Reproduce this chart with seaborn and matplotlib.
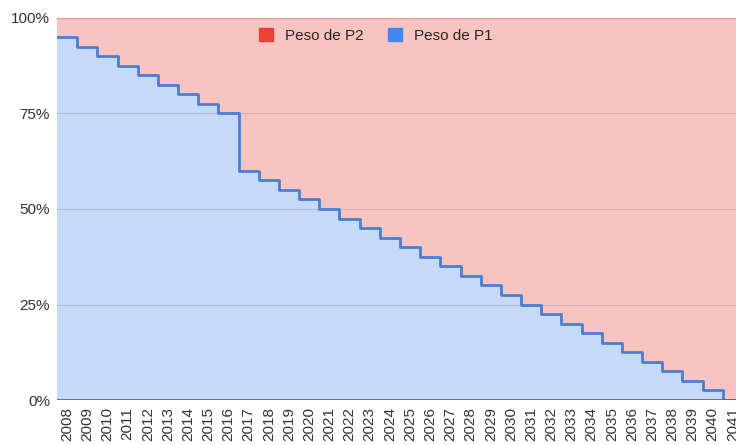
import matplotlib
matplotlib.use('Agg')
import matplotlib.pyplot as plt
import seaborn as sns
import numpy as np
import pandas as pd
from matplotlib.patches import Patch

years = [str(y) for y in range(2008, 2042)]
peso_p1 = [95, 92.5, 90, 87.5, 85, 82.5, 80, 77.5, 75,
           60, 57.5, 55, 52.5, 50, 47.5, 45, 42.5, 40, 37.5, 35,
           32.5, 30, 27.5, 25, 22.5, 20, 17.5, 15, 12.5, 10, 7.5, 5, 2.5, 0]
peso_p2 = [100 - v for v in peso_p1]

sns.set_theme(style="white")
plt.rcParams['font.family'] = ['Liberation Sans', 'DejaVu Sans']

df = pd.DataFrame({'year': years, 'p1': peso_p1, 'p2': peso_p2})
df['pos'] = np.arange(len(df))

# step edges: each year fills one band
edges = np.append(df['pos'].values, len(df))
p1_edge = np.append(df['p1'].values, df['p1'].values[-1])
total_edge = p1_edge + np.append(df['p2'].values, df['p2'].values[-1])

fig = plt.figure(figsize=(7.36, 4.45), dpi=100)
ax = fig.add_axes([57 / 736, 45 / 445, 686 / 736, 382 / 445])

blue_fill = '#c6d9f8'
blue_line = '#4a7dd4'
red_fill = '#f8c4c1'
red_line = '#e8948f'

ax.fill_between(edges, 0, p1_edge, step='post', color=blue_fill, lw=0, zorder=1)
ax.fill_between(edges, p1_edge, total_edge, step='post', color=red_fill, lw=0, zorder=1)

for v in [25, 50, 75]:
    ax.axhline(v, color='#a9a5b8', lw=0.8, alpha=0.6, zorder=2)

line_df = pd.DataFrame({'x': edges, 'p1': p1_edge, 'tot': total_edge})
sns.lineplot(data=line_df, x='x', y='tot', drawstyle='steps-post', color=red_line,
             lw=1.6, ax=ax, zorder=3)
sns.lineplot(data=line_df, x='x', y='p1', drawstyle='steps-post', color=blue_line,
             lw=2.0, ax=ax, zorder=4)
ax.axhline(0, color='#5f6368', lw=1.2, zorder=5)

ax.set_xlim(0, len(df))
ax.set_ylim(0, 100)
ax.set_xticks(df['pos'] + 0.5)
ax.set_xticklabels(df['year'], rotation=90, fontsize=11, color='#333333')
ax.set_yticks([0, 25, 50, 75, 100])
ax.set_yticklabels(['0%', '25%', '50%', '75%', '100%'], fontsize=11, color='#333333')
ax.tick_params(axis='both', length=0)
ax.tick_params(axis='y', pad=5)
ax.tick_params(axis='x', pad=5)
ax.set_xlabel('')
ax.set_ylabel('')
for s in ax.spines.values():
    s.set_visible(False)

handles = [Patch(color='#ea4335', label='Peso de P2'),
           Patch(color='#4285f4', label='Peso de P1')]
leg = ax.legend(handles=handles, loc='upper center', bbox_to_anchor=(319 / 686, 1.01),
                ncol=2, frameon=False, fontsize=11, handlelength=0.9, handleheight=0.9,
                columnspacing=1.6, handletextpad=0.8)

plt.savefig('out.png', dpi=100, facecolor='white')
plt.close()
